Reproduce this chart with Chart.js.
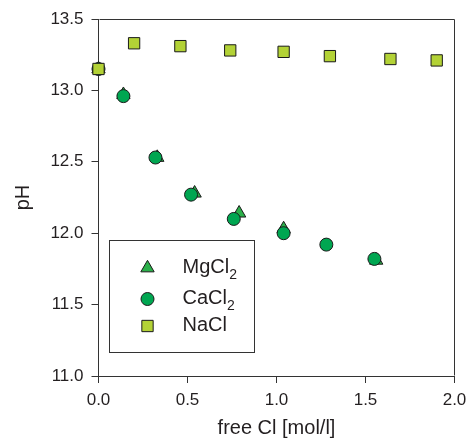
<!DOCTYPE html>
<html>
<head>
<meta charset="utf-8">
<script src="https://cdn.jsdelivr.net/npm/chart.js@4/dist/chart.umd.min.js"></script>
<style>
  html, body { margin: 0; padding: 0; background: #fff; }
  #wrap { width: 470px; height: 438px; }
</style>
</head>
<body>
<div id="wrap"><canvas id="canvas" width="470" height="438"></canvas></div>
<script>
// data
const mgX = [0.0, 0.14, 0.33, 0.54, 0.79, 1.04, 1.56];
const mgY = [13.15, 12.97, 12.53, 12.28, 12.14, 12.03, 11.81];
const caX = [0.0, 0.14, 0.32, 0.52, 0.76, 1.04, 1.28, 1.55];
const caY = [13.15, 12.96, 12.53, 12.27, 12.10, 12.00, 11.92, 11.82];
const naX = [0.0, 0.20, 0.46, 0.74, 1.04, 1.30, 1.64, 1.90];
const naY = [13.15, 13.33, 13.31, 13.28, 13.27, 13.24, 13.22, 13.21];
const labels = ['MgCl2', 'CaCl2', 'NaCl'];
const xTicks = [0, 0.5, 1.0, 1.5, 2.0];
const yTicks = [11.0, 11.5, 12.0, 12.5, 13.0, 13.5];

function pts(xs, ys) {
    return xs.map(function(x, i) { return {x: x, y: ys[i]}; });
}

const FONT = '"Liberation Sans", Arial, Helvetica, sans-serif';
const INK = '#231f20';

// top and right sides of the plot box (left/bottom are the axis borders)
const frame = {
    id: 'frame',
    beforeDatasetsDraw(chart) {
        const a = chart.chartArea, c = chart.ctx;
        const l = Math.round(a.left) + 0.5, r = Math.round(a.right) - 0.5;
        const t = Math.round(a.top) + 0.5, b = Math.round(a.bottom) - 0.5;
        c.save();
        c.strokeStyle = '#333';
        c.lineWidth = 1;
        c.beginPath();
        c.moveTo(l, t);
        c.lineTo(r, t);
        c.lineTo(r, b);
        c.stroke();
        c.restore();
    }
};

// legend in a box, with subscripts
const boxLegend = {
    id: 'boxLegend',
    afterDraw(chart) {
        const a = chart.chartArea, c = chart.ctx;
        const bx = a.left + 10.5, by = a.bottom - 136, bw = 145, bh = 112;
        c.save();
        c.strokeStyle = '#333';
        c.lineWidth = 1;
        c.strokeRect(Math.round(bx) + 0.5, Math.round(by) + 0.5, bw, bh);
        const rows = [28, 59, 86];
        chart.data.datasets.forEach(function(ds, i) {
            const y = by + rows[i];
            c.fillStyle = ds.backgroundColor;
            c.strokeStyle = ds.borderColor;
            c.lineWidth = 1;
            Chart.helpers.drawPoint(c, {pointStyle: ds.pointStyle, radius: ds.pointRadius, rotation: 0, borderWidth: 1}, bx + 38.5, y);
            const m = ds.label.match(/^(.*?)(\d*)$/);
            c.fillStyle = INK;
            c.textBaseline = 'middle';
            c.textAlign = 'left';
            c.font = '20px ' + FONT;
            c.fillText(m[1], bx + 73.5, y - 1);
            if (m[2]) {
                const w = c.measureText(m[1]).width;
                c.font = '14px ' + FONT;
                c.fillText(m[2], bx + 73.5 + w, y + 7);
            }
        });
        c.restore();
    }
};

const ctx = document.getElementById('canvas').getContext('2d');
const myChart = new Chart(ctx, {
    type: 'scatter',
    data: {
        datasets: [{
            label: labels[0],
            data: pts(mgX, mgY),
            pointStyle: 'triangle',
            pointRadius: 7.7,
            backgroundColor: '#2bb04a',
            borderColor: '#1a1a1a',
            borderWidth: 1,
            order: 2,
            clip: false
        }, {
            label: labels[1],
            data: pts(caX, caY),
            pointStyle: 'circle',
            pointRadius: 6.5,
            backgroundColor: '#00a651',
            borderColor: '#1a1a1a',
            borderWidth: 1,
            order: 1,
            clip: false
        }, {
            label: labels[2],
            data: pts(naX, naY),
            pointStyle: 'rect',
            pointRadius: 8,
            backgroundColor: '#b3d236',
            borderColor: '#1a1a1a',
            borderWidth: 1,
            order: 0,
            clip: false
        }]
    },
    options: {
        responsive: false,
        animation: false,
        layout: { padding: { top: 19, right: 15.5, left: 0, bottom: 0 } },
        plugins: {
            legend: { display: false },
            tooltip: { enabled: false }
        },
        elements: { point: { hoverRadius: 7 } },
        scales: {
            x: {
                type: 'linear',
                min: 0,
                max: 2,
                afterBuildTicks: function(s) { s.ticks = xTicks.map(function(v) { return {value: v}; }); },
                afterFit: function(s) { s.height = 62; s.paddingLeft = 0; s.paddingRight = 0; },
                ticks: {
                    color: INK,
                    font: { family: FONT, size: 17 },
                    padding: 7,
                    maxRotation: 0,
                    callback: function(v) { return Number(v).toFixed(1); }
                },
                grid: { drawOnChartArea: false, tickLength: 7, color: '#333' },
                border: { color: '#333' },
                title: {
                    display: true,
                    text: 'free Cl [mol/l]',
                    color: INK,
                    font: { family: FONT, size: 20, lineHeight: 1 },
                    padding: 0
                }
            },
            y: {
                type: 'linear',
                min: 11,
                max: 13.5,
                afterBuildTicks: function(s) { s.ticks = yTicks.map(function(v) { return {value: v}; }); },
                afterFit: function(s) { s.width = 98.5; s.paddingTop = 0; s.paddingBottom = 0; },
                ticks: {
                    color: INK,
                    font: { family: FONT, size: 17 },
                    padding: 8,
                    callback: function(v) { return Number(v).toFixed(1); }
                },
                grid: { drawOnChartArea: false, tickLength: 7, color: '#333' },
                border: { color: '#333' },
                title: {
                    display: true,
                    text: 'pH',
                    color: INK,
                    font: { family: FONT, size: 20, lineHeight: 1 },
                    padding: { top: 13, bottom: 0 }
                }
            }
        }
    },
    plugins: [frame, boxLegend]
});
</script>
</body>
</html>
